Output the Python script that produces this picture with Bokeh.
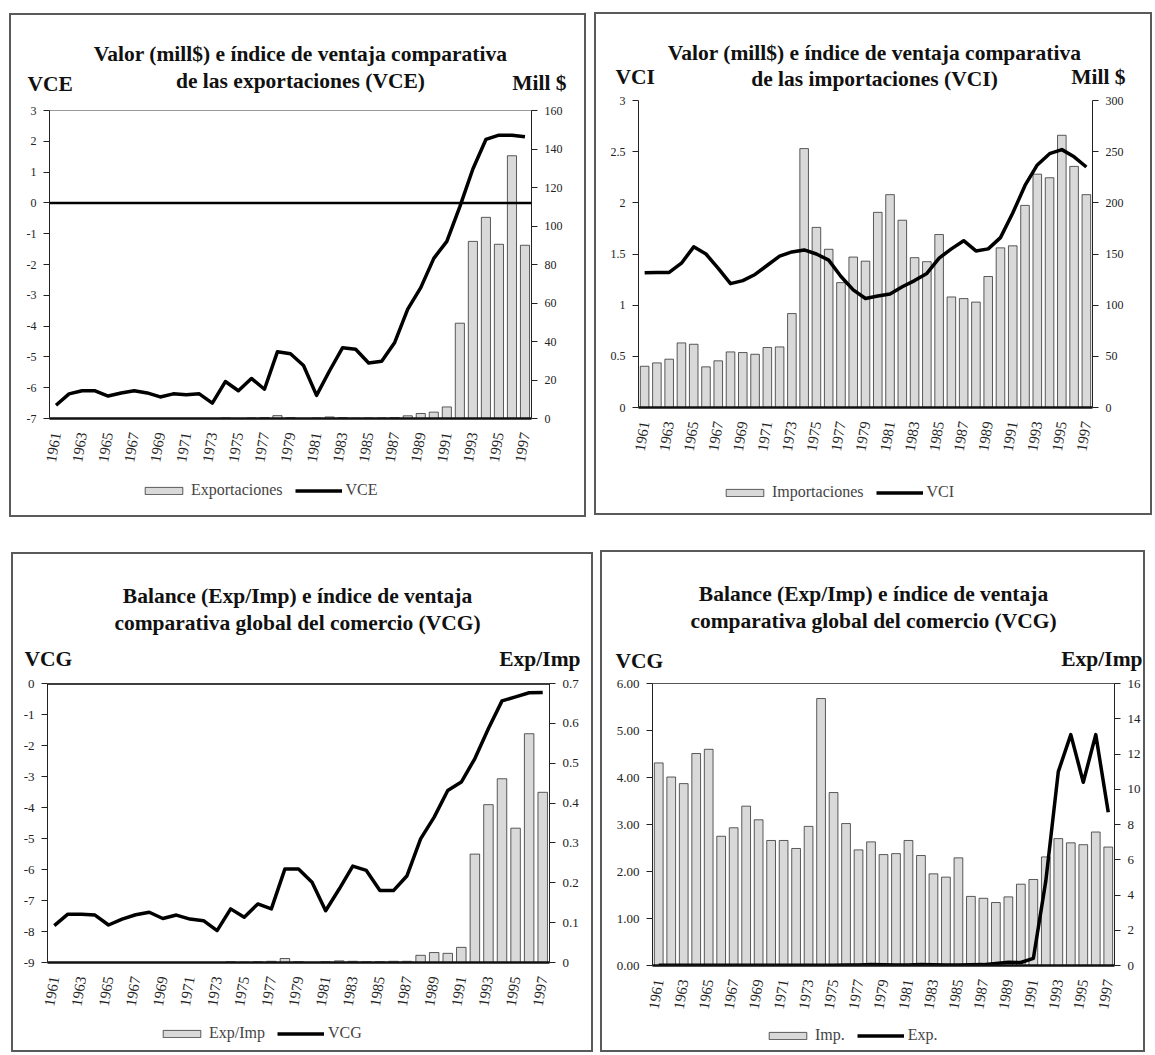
from bokeh.plotting import figure
from bokeh.models import (Range1d, LinearAxis, FixedTicker, CustomJSTickFormatter,
                          Label, Legend, LegendItem, Span)
from bokeh.embed import file_html
from bokeh.resources import INLINE

FONT = "Liberation Serif"

years = list(range(1961, 1998))
year_ticks = list(range(1961, 1998, 2))

# ---- Panel 1: exportaciones (Mill $) and VCE
exportaciones = [0, 0, 0, 0, 0, 0, 0, 0, 0, 0, 0, 0, 0,
                 0.3, 0, 0.3, 0.5, 1.5, 0.5, 0, 0.3, 0.8, 0.5, 0.2, 0.3, 0.3, 0.5,
                 1.4, 2.6, 3.3, 6.0, 49.5, 92, 104.5, 90.5, 136.5, 90]
vce = [-6.57, -6.2, -6.1, -6.1, -6.27, -6.17, -6.1, -6.17, -6.3, -6.2, -6.23, -6.2, -6.5,
       -5.8, -6.1, -5.7, -6.05, -4.83, -4.9, -5.28, -6.25, -5.45, -4.7, -4.75, -5.2, -5.14,
       -4.53, -3.45, -2.75, -1.8, -1.25, -0.12, 1.1, 2.06, 2.2, 2.2, 2.15]
vce_ticks = [-7, -6, -5, -4, -3, -2, -1, 0, 1, 2, 3]
exp_ticks = [0, 20, 40, 60, 80, 100, 120, 140, 160]

# ---- Panel 2: importaciones (Mill $) and VCI
importaciones = [40.3, 43.6, 47.2, 63.1, 61.8, 39.7, 45.6, 54.3, 53.7, 52.0, 58.6, 59.2, 91.8,
                 253, 176, 154.6, 122, 147, 143, 190.7, 208, 183, 146.4, 142.5, 169, 108,
                 106.4, 103, 128, 156, 158, 197.5, 228, 224.5, 266, 235.6, 208]
vci = [1.316, 1.32, 1.32, 1.41, 1.57, 1.5, 1.36, 1.21, 1.24, 1.3, 1.39, 1.48, 1.52,
       1.54, 1.5, 1.44, 1.28, 1.15, 1.065, 1.09, 1.11, 1.18, 1.24, 1.31, 1.46, 1.55,
       1.63, 1.53, 1.55, 1.66, 1.9, 2.17, 2.37, 2.48, 2.52, 2.45, 2.35]
vci_ticks = [0, 0.5, 1, 1.5, 2, 2.5, 3]
imp_ticks = [0, 50, 100, 150, 200, 250, 300]

# ---- Panel 3: Exp/Imp balance and VCG
exp_imp = [0, 0, 0, 0, 0, 0, 0, 0, 0, 0, 0, 0, 0,
           0.002, 0.001, 0.002, 0.003, 0.01, 0.002, 0, 0.002, 0.004, 0.003, 0.002, 0.002,
           0.003, 0.003, 0.018, 0.025, 0.023, 0.038, 0.272, 0.396, 0.461, 0.337, 0.574, 0.427]
vcg = [-7.81, -7.44, -7.44, -7.47, -7.79, -7.6, -7.46, -7.38, -7.58, -7.47, -7.6, -7.65, -7.97,
       -7.27, -7.54, -7.11, -7.27, -5.98, -5.98, -6.41, -7.33, -6.63, -5.89, -6.03, -6.68,
       -6.68, -6.2, -5.01, -4.31, -3.45, -3.18, -2.42, -1.45, -0.56, -0.43, -0.3, -0.29]
vcg_ticks = [-9, -8, -7, -6, -5, -4, -3, -2, -1, 0]
ratio_ticks = [0, 0.1, 0.2, 0.3, 0.4, 0.5, 0.6, 0.7]

# ---- Panel 4: Imp. (bars) and Exp. (line)
imp_bal = [4.31, 4.01, 3.87, 4.51, 4.6, 2.75, 2.93, 3.39, 3.1, 2.66, 2.66, 2.49, 2.96,
           5.68, 3.68, 3.02, 2.46, 2.63, 2.36, 2.38, 2.66, 2.34, 1.95, 1.88, 2.29, 1.47,
           1.43, 1.34, 1.46, 1.73, 1.83, 2.31, 2.7, 2.61, 2.57, 2.84, 2.52]
exp_bal = [0.02, 0.02, 0.02, 0.02, 0.02, 0.02, 0.02, 0.02, 0.02, 0.02, 0.02, 0.02, 0.02,
           0.02, 0.02, 0.03, 0.03, 0.06, 0.04, 0.03, 0.03, 0.05, 0.04, 0.03, 0.03, 0.04,
           0.05, 0.12, 0.18, 0.17, 0.4, 4.8, 11.0, 13.1, 10.4, 13.1, 8.7]
vcg4_ticks = [0, 1, 2, 3, 4, 5, 6]
ratio4_ticks = [0, 2, 4, 6, 8, 10, 12, 14, 16]

BAR_FILL = "#d9d9d9"
BAR_LINE = "#333333"
INT_FMT = "return String(tick);"
DEC2_FMT = "return tick.toFixed(2);"

roots = []


def place(fig, x, y, extra=None):
    st = {"position": "absolute", "left": f"{x}px", "top": f"{y}px"}
    if extra:
        st.update(extra)
    fig.styles = st
    roots.append(fig)


def style_y(ax, ticks, code, size):
    ax.ticker = FixedTicker(ticks=ticks)
    ax.formatter = CustomJSTickFormatter(code=code)
    ax.axis_line_color = "#222222"
    ax.axis_line_width = 1
    ax.major_tick_out = 6
    ax.major_tick_in = 0
    ax.minor_tick_line_color = None
    ax.major_tick_line_color = "#222222"
    ax.major_label_text_font = FONT
    ax.major_label_text_font_size = size
    ax.major_label_text_color = "#222222"
    ax.major_label_standoff = 7


def main_fig(px, py, W, H, fl, fr, ft, fb, ylim, yticks, yfmt, y2lim, y2ticks, y2fmt,
             outline, tick_size):
    p = figure(width=W, height=H, output_backend="svg", toolbar_location=None,
               x_range=Range1d(1960.5, 1997.5), y_range=Range1d(*ylim),
               min_border_left=fl, min_border_right=fr, min_border_top=ft,
               min_border_bottom=fb, border_fill_alpha=0,
               background_fill_color="white", outline_line_color=outline)
    p.extra_y_ranges = {"r": Range1d(*y2lim)}
    p.xgrid.visible = False
    p.ygrid.visible = False
    style_y(p.yaxis[0], yticks, yfmt, tick_size)
    ax2 = LinearAxis(y_range_name="r")
    style_y(ax2, y2ticks, y2fmt, tick_size)
    p.add_layout(ax2, "right")
    xa = p.xaxis[0]
    xa.ticker = FixedTicker(ticks=year_ticks)
    xa.major_label_orientation = 1.4
    xa.major_label_text_font = FONT
    xa.major_label_text_font_size = "15px"
    xa.major_label_text_color = "#222222"
    xa.major_label_standoff = 14
    xa.major_tick_out = 0
    xa.major_tick_in = 0
    xa.minor_tick_line_color = None
    xa.axis_line_color = "#111111"
    xa.axis_line_width = 2.5
    place(p, px, py, {"outline": "2px solid #5a5a5a", "outline-offset": "-2px"})
    return p


def header_fig(px, py, W, Hh, texts):
    # texts: (x, y, text, align) in pixels relative to the panel's top-left corner
    h = figure(width=W, height=Hh, output_backend="svg", toolbar_location=None,
               x_range=Range1d(0, W), y_range=Range1d(Hh, 0),
               min_border=0, x_axis_type=None, y_axis_type=None,
               outline_line_color=None, background_fill_alpha=0, border_fill_alpha=0)
    h.grid.visible = False
    for (tx, ty, txt, al) in texts:
        h.add_layout(Label(x=tx, y=ty, text=txt, text_font=FONT, text_font_size="21.5px",
                           text_font_style="bold", text_align=al,
                           text_baseline="middle", text_color="#111111"))
    place(h, px, py)
    return h


def footer_fig(px, py, W, Hf, bar_label, bar_vals, line_label, line_vals, loc):
    # legend strip below the chart; its key glyphs reuse the series (drawn off-range)
    f = figure(width=W, height=Hf, output_backend="svg", toolbar_location=None,
               x_range=Range1d(0, W), y_range=Range1d(0, Hf),
               min_border=0, x_axis_type=None, y_axis_type=None,
               outline_line_color=None, background_fill_alpha=0, border_fill_alpha=0)
    f.grid.visible = False
    rb = f.vbar(x=years, top=bar_vals, width=0.7, fill_color=BAR_FILL, line_color=BAR_LINE,
                line_width=0.8)
    rl = f.line(x=years, y=line_vals, line_width=3.5, line_color="black")
    lg = Legend(items=[LegendItem(label=bar_label, renderers=[rb]),
                       LegendItem(label=line_label, renderers=[rl])],
                orientation="horizontal", location=loc, padding=0,
                spacing=12, label_standoff=4, glyph_width=47, glyph_height=9,
                label_height=18, border_line_color=None, background_fill_alpha=0,
                label_text_font=FONT, label_text_font_size="16px", margin=0)
    f.add_layout(lg)
    place(f, px, py)
    return f


# ---------- Panel 1  (panel 9,13 - 586,517 ; frame 49,110 - 531,418)
p1 = main_fig(9, 13, 577, 504, 40, 55, 97, 99, (-7, 3), vce_ticks, INT_FMT,
              (0, 160), exp_ticks, INT_FMT, "#9a9a9a", "12px")
p1.vbar(x=years, top=exportaciones, width=0.7, y_range_name="r",
        fill_color=BAR_FILL, line_color=BAR_LINE, line_width=0.8)
p1.add_layout(Span(location=0, dimension="width", line_color="black", line_width=2.5))
p1.line(years, vce, line_width=3.5, line_color="black", line_join="round")
header_fig(9, 13, 577, 89, [
    (291, 40, "Valor (mill$) e índice de ventaja comparativa", "center"),
    (291, 67, "de las exportaciones (VCE)", "center"),
    (18, 70, "VCE", "left"),
    (557, 69, "Mill $", "right")])
footer_fig(9, 473, 577, 40, "Exportaciones", exportaciones, "VCE", vce, (131, 14))

# ---------- Panel 2  (panel 594,12 - 1152,515 ; frame 638,100 - 1092,407)
p2 = main_fig(594, 12, 558, 503, 44, 60, 88, 108, (0, 3), vci_ticks, INT_FMT,
              (0, 300), imp_ticks, INT_FMT, None, "12px")
p2.vbar(x=years, top=importaciones, width=0.7, y_range_name="r",
        fill_color=BAR_FILL, line_color=BAR_LINE, line_width=0.8)
p2.line(years, vci, line_width=3.5, line_color="black", line_join="round")
header_fig(594, 12, 558, 80, [
    (280, 40, "Valor (mill$) e índice de ventaja comparativa", "center"),
    (280, 66, "de las importaciones (VCI)", "center"),
    (21, 64, "VCI", "left"),
    (531, 64, "Mill $", "right")])
footer_fig(594, 462, 558, 49, "Importaciones", importaciones, "VCI", vci, (127, 10))

# ---------- Panel 3  (panel 11,552 - 593,1052 ; frame 47,683 - 549,962)
p3 = main_fig(11, 552, 582, 500, 36, 44, 131, 90, (-9, 0), vcg_ticks, INT_FMT,
              (0, 0.7), ratio_ticks, INT_FMT, "#777777", "13px")
p3.vbar(x=years, top=exp_imp, width=0.7, y_range_name="r",
        fill_color=BAR_FILL, line_color=BAR_LINE, line_width=0.8)
p3.add_layout(Span(location=0, dimension="width", line_color="black", line_width=2.5))
p3.line(years, vcg, line_width=3.5, line_color="black", line_join="round")
header_fig(11, 552, 582, 123, [
    (286, 43, "Balance (Exp/Imp) e índice de ventaja", "center"),
    (286, 70, "comparativa global del comercio (VCG)", "center"),
    (13, 106, "VCG", "left"),
    (569, 106, "Exp/Imp", "right")])
footer_fig(11, 1017, 582, 31, "Exp/Imp", exp_imp, "VCG", vcg, (147, 6))

# ---------- Panel 4  (panel 600,550 - 1145,1052 ; frame 652,683 - 1114,965)
p4 = main_fig(600, 550, 545, 502, 52, 31, 133, 87, (0, 6), vcg4_ticks, DEC2_FMT,
              (0, 16), ratio4_ticks, INT_FMT, "#555555", "13px")
p4.vbar(x=years, top=imp_bal, width=0.7,
        fill_color=BAR_FILL, line_color=BAR_LINE, line_width=0.8)
p4.line(years, exp_bal, y_range_name="r", line_width=3.5, line_color="black",
        line_join="round")
header_fig(600, 550, 545, 125, [
    (273, 43, "Balance (Exp/Imp) e índice de ventaja", "center"),
    (273, 70, "comparativa global del comercio (VCG)", "center"),
    (15, 110, "VCG", "left"),
    (542, 108, "Exp/Imp", "right")])
footer_fig(600, 1020, 545, 28, "Imp.", imp_bal, "Exp.", exp_bal, (164, 4))

open("out.html", "w").write(file_html(roots, INLINE))
